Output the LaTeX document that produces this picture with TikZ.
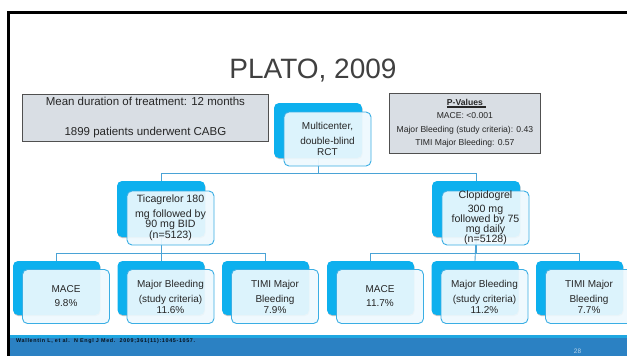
\documentclass[tikz,border=0pt]{standalone}
\usepackage{fontspec}
\setmainfont{Liberation Sans}
\usetikzlibrary{backgrounds}

\definecolor{slideblue}{HTML}{2B81C3}
\definecolor{stripblue}{HTML}{1FA7E1}
\definecolor{backblue}{HTML}{0DB0EE}
\definecolor{frontline}{HTML}{3AAEE4}
\definecolor{connblue}{HTML}{4AA3D6}
\definecolor{notegrey}{HTML}{D9DEE4}
\definecolor{noteline}{HTML}{505050}
\definecolor{titlegrey}{HTML}{404040}

% bold heading with a heavy underline running a little past the word
\newcommand{\heavyul}[1]{{\setbox0\hbox{#1}\rlap{\raisebox{-2.2pt}{\rule{\dimexpr\wd0+3pt\relax}{1.5pt}}}\box0}}

\tikzset{
  backcard/.style={fill=backblue, rounded corners=5pt, minimum width=88pt,
    minimum height=55pt, inner sep=0pt,
    preaction={fill=black!45, fill opacity=0.5, rounded corners=5pt,
      transform canvas={shift={(0.6pt,-1.2pt)}}}},
  frontcard/.style={fill=white!93!backblue, fill opacity=0.92, text opacity=1,
    draw=frontline, line width=0.9pt, rounded corners=5pt,
    minimum width=87pt, minimum height=54pt, inner sep=0pt, align=center,
    text=black!85, font=\fontsize{10}{12}\selectfont},
  conn/.style={draw=connblue, line width=0.9pt},
  notebox/.style={fill=notegrey, draw=noteline, line width=0.8pt,
    inner sep=0pt, align=center, text=black!85},
}

\begin{document}
\begin{tikzpicture}[x=1pt,y=-1pt]
\useasboundingbox (0,0) rectangle (627,356);

% footer band and frame
\fill[slideblue] (10,337.5) rectangle (627,356);
\fill[stripblue] (10,335) rectangle (627,338);
\draw[black, line width=2.5pt] (7.2,12.5) -- (627,12.5);
\draw[black, line width=2.5pt] (8.5,11.3) -- (8.5,356);

% title
\node[font=\fontsize{28}{32}\selectfont, text=titlegrey] (title) at (313,71) {PLATO, 2009};

% note boxes
\node[notebox, minimum width=246pt, minimum height=47pt, anchor=north west,
  font=\fontsize{11.5}{13}\selectfont] (dur) at (22,94)
  {Mean duration of treatment: 12 months\\[17pt]1899 patients underwent CABG};
\node[notebox, minimum width=151pt, minimum height=60pt, anchor=north west,
  font=\fontsize{8.6}{13.3}\selectfont] (pval) at (389,93)
  {\heavyul{\textbf{P-Values}}\\MACE: <0.001\\Major Bleeding (study criteria): 0.43\\TIMI Major Bleeding: 0.57};

% design
\node[backcard] (top) at (318,130.5) {};
\node[frontcard] (topf) at ([shift={(9.5,8.5)}]top.center)
  {Multicenter,\\[3pt]double-blind\\[-1pt]RCT};

% treatment arms
\node[backcard, minimum height=56pt] (tica) at (161,209) {};
\node[frontcard, font=\fontsize{10.6}{11}\selectfont] (ticaf) at ([shift={(9.5,9)}]tica.center)
  {Ticagrelor 180\\[4pt]mg followed by\\[-1pt]90 mg BID\\(n=5123)};
\node[backcard, minimum height=56pt] (clop) at (476,209) {};
\node[frontcard, font=\fontsize{10.6}{11}\selectfont] (clopf) at ([shift={(9.5,9)}]clop.center)
  {Clopidogrel\\[3pt]300 mg\\[-1pt]followed by 75\\[-1pt]mg daily\\[-1pt](n=5128)};

% outcomes, ticagrelor
\node[backcard, minimum width=87pt, minimum height=54pt] (la) at (56.5,288) {};
\node[frontcard] (laf) at ([shift={(9.5,8.5)}]la.center) {MACE\\[2pt]9.8\%};
\node[backcard, minimum width=87pt, minimum height=54pt] (lb) at (161,288) {};
\node[frontcard] (lbf) at ([shift={(9.5,8.5)}]lb.center) {Major Bleeding\\[3pt](study criteria)\\[-1pt]11.6\%};
\node[backcard, minimum width=87pt, minimum height=54pt] (lc) at (265.5,288) {};
\node[frontcard] (lcf) at ([shift={(9.5,8.5)}]lc.center) {TIMI Major\\[3pt]Bleeding\\[-1pt]7.9\%};

% outcomes, clopidogrel
\node[backcard, minimum width=87pt, minimum height=54pt] (ra) at (370.5,288) {};
\node[frontcard] (raf) at ([shift={(9.5,8.5)}]ra.center) {MACE\\[2pt]11.7\%};
\node[backcard, minimum width=87pt, minimum height=54pt] (rb) at (475,288) {};
\node[frontcard] (rbf) at ([shift={(9.5,8.5)}]rb.center) {Major Bleeding\\[3pt](study criteria)\\[-1pt]11.2\%};
\node[backcard, minimum width=87pt, minimum height=54pt] (rc) at (579.5,288) {};
\node[frontcard] (rcf) at ([shift={(9.5,8.5)}]rc.center) {TIMI Major\\[3pt]Bleeding\\[-1pt]7.7\%};

% white slide and tree connectors, kept behind the cards
\begin{scope}[on background layer]
  \fill[white] (0,0) rectangle (627,356);
  \draw[conn] (top.south) -- ++(0,15) -| (tica.north);
  \draw[conn] (top.south) -- ++(0,15) -| (clop.north);
  \draw[conn] (tica.south) -- ++(0,16) -| (la.north);
  \draw[conn] (tica.south) -- (lb.north);
  \draw[conn] (tica.south) -- ++(0,16) -| (lc.north);
  \draw[conn] (clop.south) -- ++(0,16) -| (ra.north);
  \draw[conn] (clop.south) -- (rb.north);
  \draw[conn] (clop.south) -- ++(0,16) -| (rc.north);
\end{scope}

% footer texts
\node[anchor=base west, inner sep=0pt, text=black!85!slideblue,
  font=\fontsize{5.4}{6}\selectfont\bfseries\addfontfeatures{LetterSpace=12}] (cite) at (16,342.5)
  {Wallentin L, et al.\ \ N Engl J Med.\ \ 2009;361(11):1045-1057.};
\node[anchor=base, inner sep=0pt, text=white!65!slideblue,
  font=\fontsize{6.5}{7}\selectfont] (page) at (577.5,353) {28};
\end{tikzpicture}
\end{document}
